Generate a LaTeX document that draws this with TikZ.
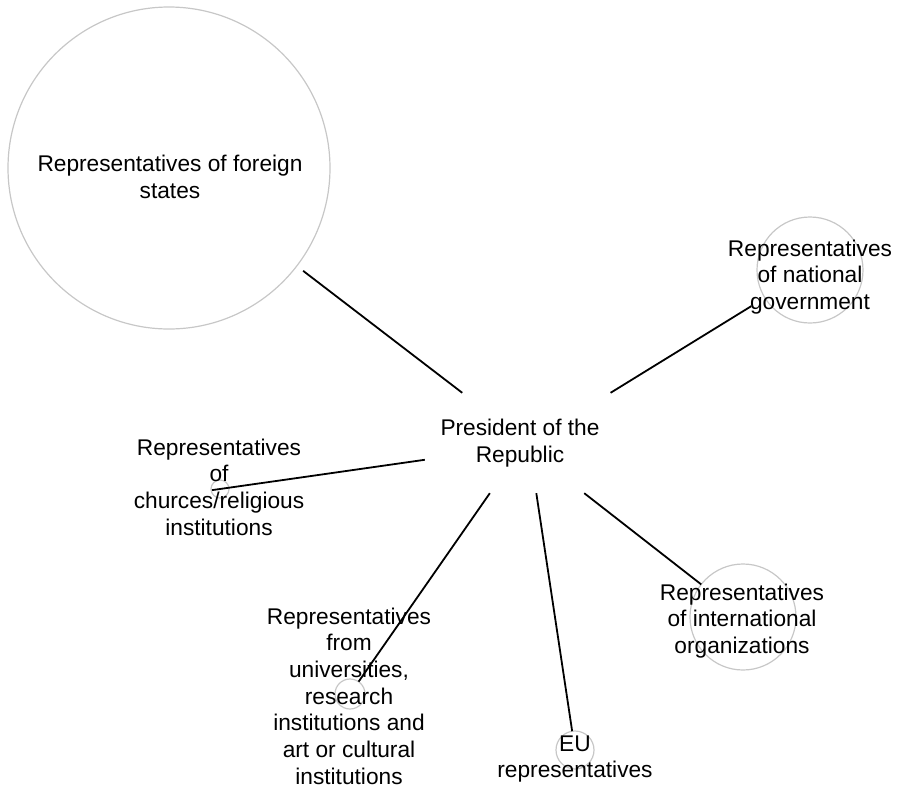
\documentclass[tikz,border=0pt]{standalone}
\usepackage{fontspec}
\setmainfont{Liberation Sans}

\begin{document}
\begin{tikzpicture}[x=1pt, y=-1pt,
    bubble/.style={draw=black!22, line width=1.2pt, circle, inner sep=0pt, outer sep=0pt},
    txt/.style={align=center, inner sep=0pt, font=\fontsize{22.7}{26.7}\selectfont},
    link/.style={black, line width=1.8pt}]
    \useasboundingbox (0,0) rectangle (898,788);
    % circles
    \node[bubble, minimum size=322pt] (foreign) at (169,168) {};
    \node[bubble, minimum size=106pt] (national) at (810,270) {};
    \node[bubble, minimum size=18pt] (churches) at (220,489) {};
    \node[bubble, minimum size=30pt] (univ) at (350,694) {};
    \node[bubble, minimum size=38pt] (eu) at (575,750) {};
    \node[bubble, minimum size=106pt] (intl) at (743,617) {};
    % centre
    \node[txt, minimum width=190pt, minimum height=100pt] (pres) at (520,443) {President of the\\Republic};
    % connectors
    \draw[link, shorten >=8pt] (pres.139.6) -- (foreign);
    \draw[link, shorten >=16pt] (pres.29.3) -- (national);
    \draw[link, shorten >=-17pt] (pres.190.2) -- (churches);
    \draw[link] (pres.239.3) -- (univ);
    \draw[link] (pres.288.2) -- (eu);
    \draw[link] (pres.322.1) -- (intl);
    % labels
    \node[txt] (foreign-txt) at (170,177) {Representatives of foreign\\states};
    \node[txt] (national-txt) at (810,277) {Representatives\\of national\\government};
    \node[txt] (churches-txt) at (219,487) {Representatives\\of\\churces/religious\\institutions};
    \node[txt] (univ-txt) at (349,696) {Representatives\\from\\universities,\\research\\institutions and\\art or cultural\\institutions};
    \node[txt] (eu-txt) at (575,759) {EU\\representatives};
    \node[txt] (intl-txt) at (742,621) {Representatives\\of international\\organizations};
\end{tikzpicture}
\end{document}
